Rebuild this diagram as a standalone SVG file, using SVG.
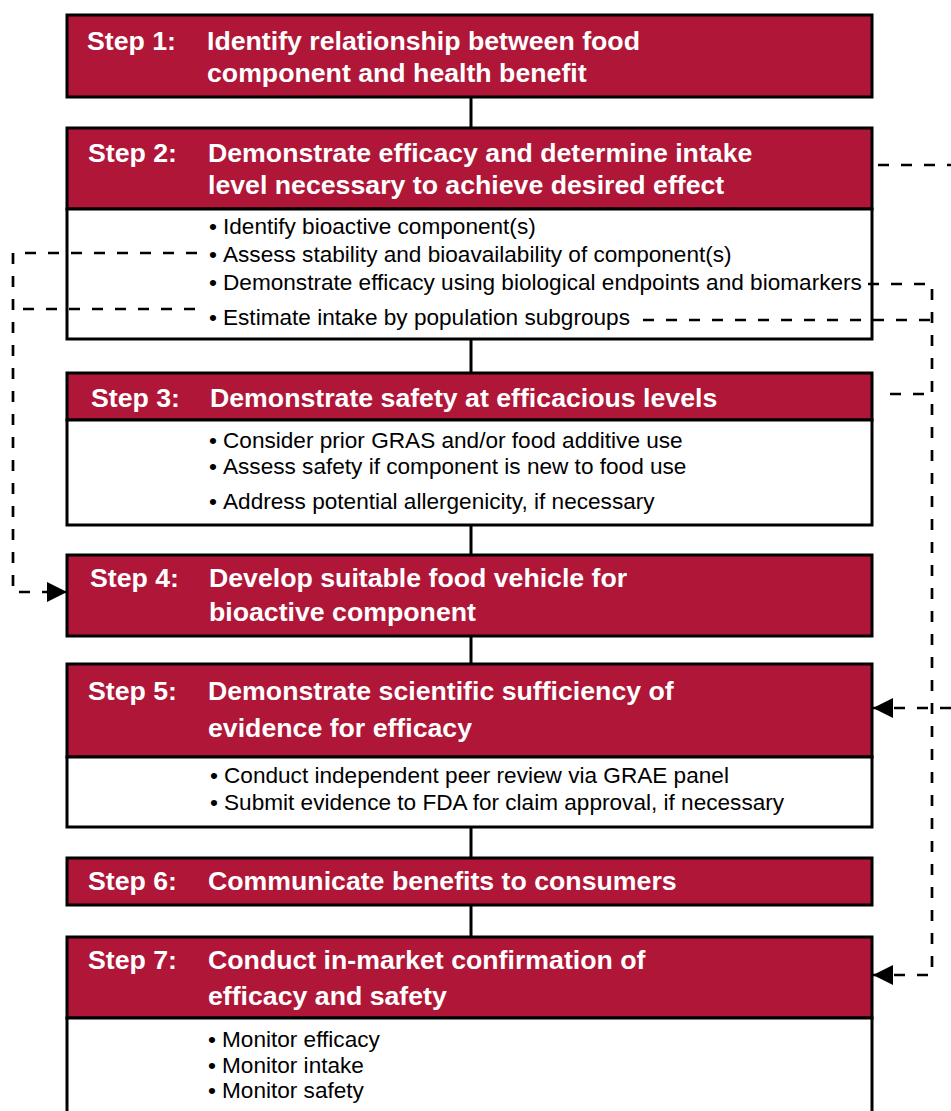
<svg xmlns="http://www.w3.org/2000/svg" width="951" height="1111" viewBox="0 0 951 1111">
<style>
.hd{fill:#AF1638;stroke:#000;stroke-width:3}
.bd{fill:#fff;stroke:#000;stroke-width:3}
.ht{font-family:"Liberation Sans",Arial,sans-serif;font-weight:bold;font-size:26.7px;fill:#fff}
.bt{font-family:"Liberation Sans",Arial,sans-serif;font-size:22.6px;fill:#000}
.ln{stroke:#000;stroke-width:3;fill:none}
.dl{stroke:#000;stroke-width:2.7;fill:none;stroke-dasharray:11 12}
</style>
<defs>
<marker id="ah" viewBox="0 0 20 20" refX="20" refY="10" markerWidth="20" markerHeight="20" markerUnits="userSpaceOnUse" orient="auto">
<path d="M0,0 L20,10 L0,20 z" fill="#000"/>
</marker>
</defs>
<rect width="951" height="1111" fill="#fff"/>
<g id="step1">
<rect class="hd" x="67" y="15" width="805" height="82"/>
<text class="ht" x="87" y="50">Step 1:</text>
<text class="ht" x="207" y="50">Identify relationship between food</text>
<text class="ht" x="207" y="82">component and health benefit</text>
</g>
<g id="step2">
<rect class="hd" x="67" y="128" width="805" height="81"/>
<rect class="bd" x="67" y="209" width="805" height="130"/>
<text class="ht" x="88" y="162">Step 2:</text>
<text class="ht" x="208" y="162">Demonstrate efficacy and determine intake</text>
<text class="ht" x="208" y="194">level necessary to achieve desired effect</text>
<text class="bt" y="234"><tspan x="209">•</tspan><tspan x="223">Identify bioactive component(s)</tspan></text>
<text class="bt" y="262"><tspan x="209">•</tspan><tspan x="223">Assess stability and bioavailability of component(s)</tspan></text>
<text class="bt" y="290"><tspan x="209">•</tspan><tspan x="223">Demonstrate efficacy using biological endpoints and biomarkers</tspan></text>
<text class="bt" y="325"><tspan x="209">•</tspan><tspan x="223">Estimate intake by population subgroups</tspan></text>
</g>
<g id="step3">
<rect class="hd" x="67" y="373" width="805" height="47"/>
<rect class="bd" x="67" y="420" width="805" height="105"/>
<text class="ht" x="91" y="407">Step 3:</text>
<text class="ht" x="210" y="407">Demonstrate safety at efficacious levels</text>
<text class="bt" y="448"><tspan x="209">•</tspan><tspan x="223">Consider prior GRAS and/or food additive use</tspan></text>
<text class="bt" y="474"><tspan x="209">•</tspan><tspan x="223">Assess safety if component is new to food use</tspan></text>
<text class="bt" y="509"><tspan x="209">•</tspan><tspan x="223">Address potential allergenicity, if necessary</tspan></text>
</g>
<g id="step4">
<rect class="hd" x="67" y="555" width="805" height="81"/>
<text class="ht" x="90" y="587">Step 4:</text>
<text class="ht" x="209" y="587">Develop suitable food vehicle for</text>
<text class="ht" x="209" y="621">bioactive component</text>
</g>
<g id="step5">
<rect class="hd" x="67" y="664" width="805" height="93"/>
<rect class="bd" x="67" y="757" width="805" height="70"/>
<text class="ht" x="88" y="700">Step 5:</text>
<text class="ht" x="208" y="700">Demonstrate scientific sufficiency of</text>
<text class="ht" x="208" y="737">evidence for efficacy</text>
<text class="bt" y="783"><tspan x="210">•</tspan><tspan x="224">Conduct independent peer review via GRAE panel</tspan></text>
<text class="bt" y="810"><tspan x="210">•</tspan><tspan x="224">Submit evidence to FDA for claim approval, if necessary</tspan></text>
</g>
<g id="step6">
<rect class="hd" x="67" y="858" width="805" height="47"/>
<text class="ht" x="88" y="890">Step 6:</text>
<text class="ht" x="208" y="890">Communicate benefits to consumers</text>
</g>
<g id="step7">
<rect class="hd" x="67" y="937" width="805" height="81"/>
<rect class="bd" x="67" y="1018" width="805" height="100"/>
<text class="ht" x="88" y="969">Step 7:</text>
<text class="ht" x="208" y="969">Conduct in-market confirmation of</text>
<text class="ht" x="208" y="1005">efficacy and safety</text>
<text class="bt" y="1047"><tspan x="208">•</tspan><tspan x="222">Monitor efficacy</tspan></text>
<text class="bt" y="1073"><tspan x="208">•</tspan><tspan x="222">Monitor intake</tspan></text>
<text class="bt" y="1098"><tspan x="208">•</tspan><tspan x="222">Monitor safety</tspan></text>
</g>
<g id="connectors">
<path class="ln" d="M471,97 V128 M471,339 V373 M471,525 V555 M471,636 V664 M471,827 V858 M471,905 V937"/>
<path class="dl" d="M197,253 H13 V592 H67" marker-end="url(#ah)"/>
<path class="dl" d="M195,309 H13"/>
<path class="dl" d="M868,284 H932 V975 H873" marker-end="url(#ah)"/>
<path class="dl" d="M643,320 H932"/>
<path class="dl" d="M890,394 H932"/>
<path class="dl" d="M878,165 H951"/>
<path class="dl" d="M951,708 H873" marker-end="url(#ah)"/>
</g>
</svg>
